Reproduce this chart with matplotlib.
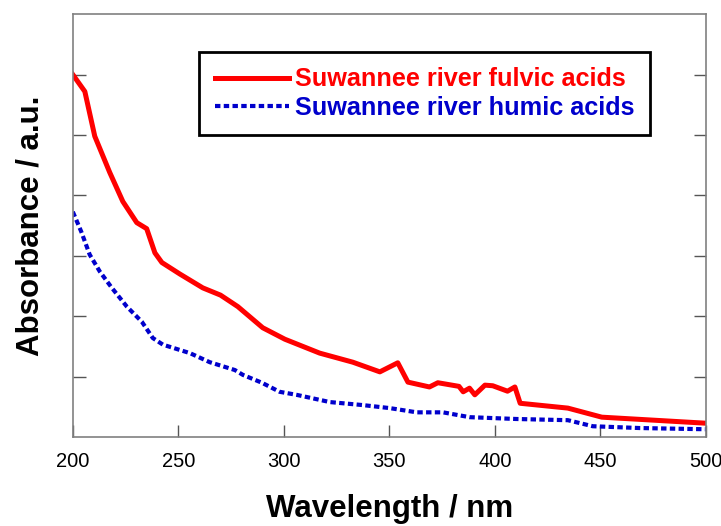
import matplotlib.pyplot as plt
import numpy as np

plt.rcParams['font.family'] = ['Liberation Sans', 'DejaVu Sans']

# wavelength (nm) and absorbance (a.u.)
wl_fulvic = [200, 205.7, 210.4, 217.5, 223.7, 230.3, 235, 238.9, 242.2, 250.7,
             261.6, 270, 278.2, 290, 300.5, 317, 332.7, 345.5, 354, 358.8,
             369, 373, 383, 385, 388, 390.5, 395.3, 399, 406, 409.5,
             412, 434.6, 450.7, 500]
abs_fulvic = [6.0, 5.72, 4.98, 4.38, 3.9, 3.55, 3.45, 3.05, 2.89, 2.7,
              2.47, 2.35, 2.16, 1.81, 1.62, 1.39, 1.24, 1.08, 1.23, 0.91,
              0.83, 0.90, 0.84, 0.75, 0.81, 0.70, 0.86, 0.85, 0.76, 0.83,
              0.56, 0.48, 0.33, 0.23]

wl_humic = [200, 204, 208, 212.8, 218.5, 225.6, 232.7, 237.9, 242.7, 255.5,
            264.9, 276.8, 280.6, 289.6, 298, 306, 321.8, 337.4, 350.2, 363,
            375.4, 388, 410, 434.6, 446.4, 468.7, 500]
abs_humic = [3.73, 3.40, 3.02, 2.74, 2.47, 2.16, 1.91, 1.64, 1.53, 1.39,
             1.24, 1.11, 1.03, 0.90, 0.75, 0.70, 0.58, 0.53, 0.48, 0.41,
             0.41, 0.33, 0.30, 0.28, 0.18, 0.15, 0.13]

fig = plt.figure(figsize=(7.21, 5.26), dpi=100)
ax = fig.add_axes([0.101, 0.169, 0.878, 0.804])

ax.plot(wl_fulvic, abs_fulvic, color='#ff0000', lw=3.6,
        label='Suwannee river fulvic acids', solid_joinstyle='round')
ax.plot(wl_humic, abs_humic, color='#0000cc', lw=3.0, dashes=(1.3, 0.8),
        label='Suwannee river humic acids')

ax.set_xlim(200, 500)
ax.set_ylim(0, 7)
ax.set_xticks(np.arange(200, 501, 50))
ax.set_yticks(np.arange(1, 7))
ax.set_yticklabels([])

for s in ax.spines.values():
    s.set_color('#808080')
    s.set_linewidth(1.2)
ax.tick_params(axis='y', direction='in', left=True, right=True, length=9,
               width=1.0, color='#555555')
ax.tick_params(axis='x', direction='in', bottom=True, top=False, length=9,
               width=1.0, color='#555555', labelsize=14.5, pad=11)

ax.set_xlabel('Wavelength / nm', fontsize=22.5, fontweight='bold', labelpad=16)
ax.set_ylabel('Absorbance / a.u.', fontsize=22.5, fontweight='bold', labelpad=16)

leg = ax.legend(loc='upper right', bbox_to_anchor=(0.912, 0.91), borderaxespad=0,
                fancybox=False, framealpha=1, edgecolor='black',
                prop={'size': 18.2, 'weight': 'bold'}, handlelength=2.95,
                handletextpad=0.25, borderpad=0.6, labelspacing=0.18)
leg.get_frame().set_linewidth(2)
for txt, c in zip(leg.get_texts(), ['#ff0000', '#0000cc']):
    txt.set_color(c)

fig.savefig('out.png', dpi=100)
